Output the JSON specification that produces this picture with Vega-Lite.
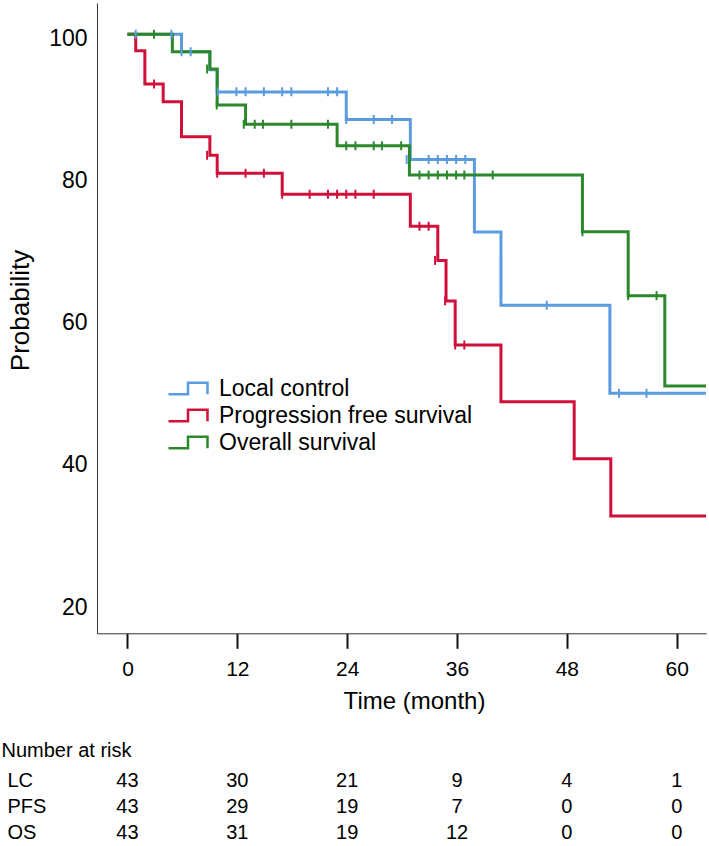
{
  "$schema": "https://vega.github.io/schema/vega-lite/v6.json",
  "autosize": {"type": "pad"},
  "padding": {"left": 1, "top": 3, "right": 3, "bottom": 4},
  "background": "white",
  "bounds": "flush",
  "spacing": 146.7,
  "config": {"font": "Liberation Sans", "view": {"stroke": null}},
  "datasets": {
    "km": [
      {"series": "Local control", "t": 0, "s": 100},
      {"series": "Local control", "t": 5.9, "s": 97.56},
      {"series": "Local control", "t": 9.0, "s": 95.0},
      {"series": "Local control", "t": 9.8, "s": 91.9},
      {"series": "Local control", "t": 23.9, "s": 88.0},
      {"series": "Local control", "t": 30.9, "s": 82.4},
      {"series": "Local control", "t": 37.9, "s": 72.2},
      {"series": "Local control", "t": 40.8, "s": 61.9},
      {"series": "Local control", "t": 52.7, "s": 49.5},
      {"series": "Local control", "t": 63.2, "s": 49.5},
      {"series": "Progression free survival", "t": 0, "s": 100},
      {"series": "Progression free survival", "t": 0.9, "s": 97.7},
      {"series": "Progression free survival", "t": 1.9, "s": 93.0},
      {"series": "Progression free survival", "t": 3.9, "s": 90.5},
      {"series": "Progression free survival", "t": 5.9, "s": 85.6},
      {"series": "Progression free survival", "t": 9.0, "s": 83.0},
      {"series": "Progression free survival", "t": 9.8, "s": 80.45},
      {"series": "Progression free survival", "t": 16.9, "s": 77.5},
      {"series": "Progression free survival", "t": 30.9, "s": 73.0},
      {"series": "Progression free survival", "t": 33.9, "s": 68.2},
      {"series": "Progression free survival", "t": 34.8, "s": 62.5},
      {"series": "Progression free survival", "t": 35.8, "s": 56.3},
      {"series": "Progression free survival", "t": 40.8, "s": 48.3},
      {"series": "Progression free survival", "t": 48.8, "s": 40.3},
      {"series": "Progression free survival", "t": 52.8, "s": 32.25},
      {"series": "Progression free survival", "t": 63.2, "s": 32.25},
      {"series": "Overall survival", "t": 0, "s": 100},
      {"series": "Overall survival", "t": 4.9, "s": 97.55},
      {"series": "Overall survival", "t": 9.0, "s": 95.1},
      {"series": "Overall survival", "t": 9.8, "s": 90.06},
      {"series": "Overall survival", "t": 12.9, "s": 87.34},
      {"series": "Overall survival", "t": 22.9, "s": 84.33},
      {"series": "Overall survival", "t": 30.8, "s": 80.21},
      {"series": "Overall survival", "t": 49.7, "s": 72.24},
      {"series": "Overall survival", "t": 54.7, "s": 63.24},
      {"series": "Overall survival", "t": 58.7, "s": 50.53},
      {"series": "Overall survival", "t": 63.2, "s": 50.53}
    ],
    "censor": [
      {"series": "Local control", "t": 0.9, "s": 100},
      {"series": "Local control", "t": 4.8, "s": 100},
      {"series": "Local control", "t": 5.9, "s": 97.56},
      {"series": "Local control", "t": 6.9, "s": 97.56},
      {"series": "Local control", "t": 9.9, "s": 91.9},
      {"series": "Local control", "t": 11.9, "s": 91.9},
      {"series": "Local control", "t": 12.9, "s": 91.9},
      {"series": "Local control", "t": 14.9, "s": 91.9},
      {"series": "Local control", "t": 16.9, "s": 91.9},
      {"series": "Local control", "t": 17.9, "s": 91.9},
      {"series": "Local control", "t": 21.9, "s": 91.9},
      {"series": "Local control", "t": 22.9, "s": 91.9},
      {"series": "Local control", "t": 23.9, "s": 88.0},
      {"series": "Local control", "t": 26.9, "s": 88.0},
      {"series": "Local control", "t": 28.9, "s": 88.0},
      {"series": "Local control", "t": 30.5, "s": 82.4},
      {"series": "Local control", "t": 32.9, "s": 82.4},
      {"series": "Local control", "t": 33.9, "s": 82.4},
      {"series": "Local control", "t": 34.9, "s": 82.4},
      {"series": "Local control", "t": 35.9, "s": 82.4},
      {"series": "Local control", "t": 36.9, "s": 82.4},
      {"series": "Local control", "t": 45.8, "s": 61.9},
      {"series": "Local control", "t": 53.7, "s": 49.5},
      {"series": "Local control", "t": 56.7, "s": 49.5},
      {"series": "Progression free survival", "t": 2.9, "s": 93.0},
      {"series": "Progression free survival", "t": 8.7, "s": 83.0},
      {"series": "Progression free survival", "t": 9.8, "s": 80.45},
      {"series": "Progression free survival", "t": 12.9, "s": 80.45},
      {"series": "Progression free survival", "t": 14.9, "s": 80.45},
      {"series": "Progression free survival", "t": 16.9, "s": 77.5},
      {"series": "Progression free survival", "t": 19.9, "s": 77.5},
      {"series": "Progression free survival", "t": 21.9, "s": 77.5},
      {"series": "Progression free survival", "t": 22.9, "s": 77.5},
      {"series": "Progression free survival", "t": 23.9, "s": 77.5},
      {"series": "Progression free survival", "t": 24.9, "s": 77.5},
      {"series": "Progression free survival", "t": 26.9, "s": 77.5},
      {"series": "Progression free survival", "t": 31.9, "s": 73.0},
      {"series": "Progression free survival", "t": 32.9, "s": 73.0},
      {"series": "Progression free survival", "t": 33.6, "s": 68.2},
      {"series": "Progression free survival", "t": 34.7, "s": 62.5},
      {"series": "Progression free survival", "t": 35.8, "s": 56.3},
      {"series": "Progression free survival", "t": 36.8, "s": 56.3},
      {"series": "Overall survival", "t": 2.9, "s": 100},
      {"series": "Overall survival", "t": 8.7, "s": 95.1},
      {"series": "Overall survival", "t": 9.75, "s": 90.06},
      {"series": "Overall survival", "t": 12.7, "s": 87.34},
      {"series": "Overall survival", "t": 13.9, "s": 87.34},
      {"series": "Overall survival", "t": 14.8, "s": 87.34},
      {"series": "Overall survival", "t": 17.9, "s": 87.34},
      {"series": "Overall survival", "t": 21.9, "s": 87.34},
      {"series": "Overall survival", "t": 23.9, "s": 84.33},
      {"series": "Overall survival", "t": 24.9, "s": 84.33},
      {"series": "Overall survival", "t": 26.9, "s": 84.33},
      {"series": "Overall survival", "t": 27.8, "s": 84.33},
      {"series": "Overall survival", "t": 29.9, "s": 84.33},
      {"series": "Overall survival", "t": 31.9, "s": 80.21},
      {"series": "Overall survival", "t": 32.9, "s": 80.21},
      {"series": "Overall survival", "t": 33.9, "s": 80.21},
      {"series": "Overall survival", "t": 34.9, "s": 80.21},
      {"series": "Overall survival", "t": 35.9, "s": 80.21},
      {"series": "Overall survival", "t": 36.8, "s": 80.21},
      {"series": "Overall survival", "t": 39.9, "s": 80.21},
      {"series": "Overall survival", "t": 49.7, "s": 72.24},
      {"series": "Overall survival", "t": 54.7, "s": 63.24},
      {"series": "Overall survival", "t": 57.8, "s": 63.24}
    ],
    "risk": [
      {"group": "LC", "t": 0, "n": 43},
      {"group": "LC", "t": 12, "n": 30},
      {"group": "LC", "t": 24, "n": 21},
      {"group": "LC", "t": 36, "n": 9},
      {"group": "LC", "t": 48, "n": 4},
      {"group": "LC", "t": 60, "n": 1},
      {"group": "PFS", "t": 0, "n": 43},
      {"group": "PFS", "t": 12, "n": 29},
      {"group": "PFS", "t": 24, "n": 19},
      {"group": "PFS", "t": 36, "n": 7},
      {"group": "PFS", "t": 48, "n": 0},
      {"group": "PFS", "t": 60, "n": 0},
      {"group": "OS", "t": 0, "n": 43},
      {"group": "OS", "t": 12, "n": 31},
      {"group": "OS", "t": 24, "n": 19},
      {"group": "OS", "t": 36, "n": 12},
      {"group": "OS", "t": 48, "n": 0},
      {"group": "OS", "t": 60, "n": 0}
    ]
  },
  "vconcat": [
    {
      "width": 609,
      "height": 630.3,
      "layer": [
        {
          "data": {"name": "km"},
          "mark": {"type": "line", "interpolate": "step-after", "strokeWidth": 3, "clip": true},
          "encoding": {
            "x": {
              "field": "t", "type": "quantitative",
              "scale": {"domain": [-3.33, 63.2], "nice": false, "zero": false},
              "axis": {
                "title": "Time (month)", "values": [0, 12, 24, 36, 48, 60],
                "grid": false, "tickSize": 15, "tickWidth": 2, "tickColor": "#111",
                "labelPadding": 10, "labelFontSize": 21, "labelColor": "#000",
                "domainColor": "#333", "domainWidth": 1,
                "titleFontSize": 24, "titleFontWeight": "normal", "titleColor": "#000",
                "titleX": 317, "titleY": 68.4, "titleBaseline": "middle"
              }
            },
            "y": {
              "field": "s", "type": "quantitative",
              "scale": {"domain": [15.75, 104.4], "nice": false, "zero": false},
              "axis": {
                "title": "Probability", "values": [20, 40, 60, 80, 100],
                "grid": false, "ticks": false, "labelPadding": 10, "labelOffset": 4,
                "labelFontSize": 23, "labelColor": "#000",
                "domainColor": "#333", "domainWidth": 1,
                "titleFontSize": 26, "titleFontWeight": "normal", "titleColor": "#000",
                "titleAngle": -90, "titleX": -63.5, "titleY": 307, "titleBaseline": "bottom", "titleAlign": "center"
              }
            },
            "color": {
              "field": "series", "type": "nominal",
              "scale": {
                "domain": ["Local control", "Progression free survival", "Overall survival"],
                "range": ["#5b9be0", "#d0103a", "#2b882b"]
              },
              "legend": {
                "title": null, "orient": "none", "legendX": 79.5, "legendY": 374,
                "symbolType": "M-2,0.6H0V-0.6H2V0.6", "symbolSize": 380,
                "symbolStrokeWidth": 2.5,
                "labelFontSize": 23, "labelColor": "#000", "labelOffset": 19.5, "labelLimit": 500,
                "rowPadding": 3, "padding": 0,
                "encode": {"symbols": {"update": {"fill": {"value": "transparent"}, "fillOpacity": {"value": 0}}}}
              }
            }
          }
        },
        {
          "data": {"name": "censor"},
          "mark": {"type": "tick", "orient": "vertical", "size": 9, "thickness": 2, "opacity": 1, "clip": true},
          "encoding": {
            "x": {"field": "t", "type": "quantitative"},
            "y": {"field": "s", "type": "quantitative"},
            "fill": {
              "field": "series", "type": "nominal",
              "scale": {
                "domain": ["Local control", "Progression free survival", "Overall survival"],
                "range": ["#5b9be0", "#d0103a", "#2b882b"]
              },
              "legend": null
            }
          }
        }
      ]
    },
    {
      "width": 609,
      "height": 52,
      "data": {"name": "risk"},
      "mark": {"type": "text", "fontSize": 20, "align": "center", "baseline": "middle", "color": "#000"},
      "encoding": {
        "x": {
          "field": "t", "type": "quantitative",
          "scale": {"domain": [-3.33, 63.2], "nice": false, "zero": false},
          "axis": null
        },
        "y": {
          "field": "group", "type": "nominal",
          "scale": {"type": "point", "domain": ["LC", "PFS", "OS"], "padding": 0},
          "axis": {
            "title": "Number at risk", "titleAngle": 0, "titleAlign": "left", "titleBaseline": "middle",
            "titleX": -96, "titleY": -30, "titleFontSize": 20, "titleFontWeight": "normal", "titleColor": "#000",
            "domain": false, "ticks": false, "grid": false,
            "labelAlign": "left", "labelPadding": 90, "labelFontSize": 20, "labelColor": "#000", "labelBaseline": "middle"
          }
        },
        "text": {"field": "n", "type": "quantitative"}
      }
    }
  ]
}
